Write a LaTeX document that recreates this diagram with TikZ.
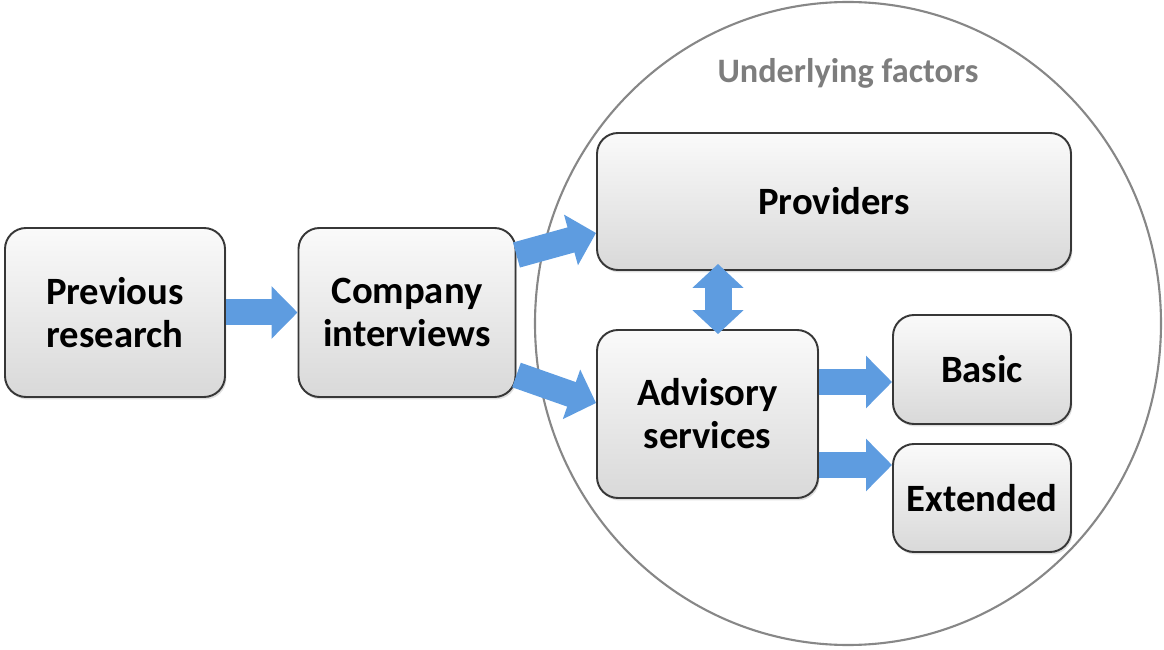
\documentclass[tikz,border=0pt]{standalone}
\usepackage{fontspec}
\setmainfont{Carlito}
\usetikzlibrary{arrows.meta,shadows}
\definecolor{arrowblue}{RGB}{94,156,224}
\definecolor{boxline}{RGB}{55,55,55}
\definecolor{ringgray}{RGB}{135,135,135}
\definecolor{labelgray}{RGB}{125,125,125}
\tikzset{
	factorbox/.style={draw=boxline, line width=1.1pt, rounded corners=0.42cm,
		top color=gray!4, bottom color=gray!30,
		drop shadow={opacity=0.25, shadow xshift=0.8pt, shadow yshift=-1.4pt},
		align=center, inner sep=0pt, font={\bfseries\fontsize{22}{24.5}\selectfont}},
	blockarrow/.style={arrowblue, line width=0.52cm, -{Triangle[width=1.02cm,length=0.52cm]}},
	twinarrow/.style={arrowblue, line width=0.54cm,
		{Triangle[width=1cm,length=0.48cm]}-{Triangle[width=1cm,length=0.48cm]}}
}

\begin{document}
\begin{tikzpicture}
			%%%%% START %%%%%
			\useasboundingbox (0, 0) rectangle (23.28, 12.98);
			
			\draw[ringgray, line width=1.2pt] (16.96, 6.51) ellipse [x radius=6.26, y radius=6.43];
			\node[text=labelgray, font={\bfseries\fontsize{19.5}{22}\selectfont}] (ringlabel) at (16.96, 11.52) {Underlying factors};
			
			\node[factorbox, minimum width=4.40cm, minimum height=3.38cm] (prev) at (2.30, 6.73) {Previous\\research};
			\node[factorbox, minimum width=4.34cm, minimum height=3.38cm] (comp) at (8.14, 6.73) {Company\\interviews};
			\node[factorbox, minimum width=9.48cm, minimum height=2.74cm] (prov) at (16.68, 8.95) {Providers};
			\node[factorbox, minimum width=4.42cm, minimum height=3.36cm] (adv) at (14.15, 4.70) {Advisory\\services};
			\node[factorbox, minimum width=3.56cm, minimum height=2.18cm] (basic) at (19.64, 5.59) {Basic};
			\node[factorbox, minimum width=3.56cm, minimum height=2.16cm] (ext) at (19.64, 3.02) {Extended};
			
			\draw[blockarrow] (prev.east) -- (comp.west);
			\draw[blockarrow] ([yshift=1.15cm]comp.east) -- ([yshift=-0.63cm]prov.west);
			\draw[blockarrow] ([yshift=-1.25cm]comp.east) -- ([yshift=0.22cm]adv.west);
			\draw[twinarrow] ([xshift=0.21cm, yshift=-0.1cm]adv.north) -- ([xshift=0.21cm, yshift=0.14cm]adv.north |- prov.south);
			\draw[blockarrow] ([yshift=-0.25cm]basic.west -| adv.east) -- ([yshift=-0.25cm]basic.west);
			\draw[blockarrow] ([yshift=0.66cm]ext.west -| adv.east) -- ([yshift=0.66cm]ext.west);
			%%%%% END %%%%%
\end{tikzpicture}
\end{document}
